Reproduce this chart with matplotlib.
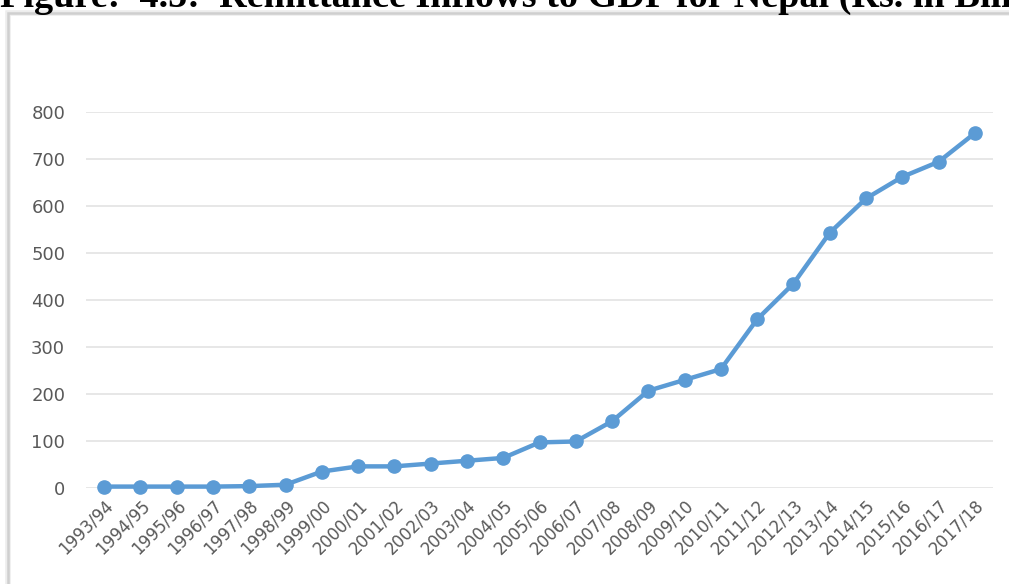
import matplotlib
matplotlib.use("Agg")
import matplotlib.pyplot as plt
from matplotlib.patches import Rectangle

# Remittance inflows, Rs. in billion, by fiscal year
years = ["1993/94", "1994/95", "1995/96", "1996/97", "1997/98", "1998/99",
         "1999/00", "2000/01", "2001/02", "2002/03", "2003/04", "2004/05",
         "2005/06", "2006/07", "2007/08", "2008/09", "2009/10", "2010/11",
         "2011/12", "2012/13", "2013/14", "2014/15", "2015/16", "2016/17",
         "2017/18"]
remittance = [3, 3, 3, 3, 4, 7, 35, 46, 46, 52, 58, 64, 97, 99, 142, 207,
              230, 253, 359, 435, 543, 616, 662, 694, 755]
y_ticks = [0, 100, 200, 300, 400, 500, 600, 700, 800]

W, H = 1009, 584
fig = plt.figure(figsize=(W / 100, H / 100), dpi=100)
fig.patch.set_facecolor("white")

# Chart frame with a soft edge
for lw, col in [(4.0, "#EDEDED"), (1.8, "#CFCFCF")]:
    fig.patches.append(Rectangle((8 / W, -0.1), 1.2, (H - 13) / H + 0.1,
                                 transform=fig.transFigure, facecolor="none",
                                 edgecolor=col, lw=lw, zorder=-1))

# Heading, partly cut by the top edge
fig.text(0.0, 1 - 7 / H,
         "Figure:  4.5:  Remittance Inflows to GDP for Nepal (Rs. in Billion)",
         family="Liberation Serif", fontweight="bold", fontsize=27.5,
         ha="left", va="baseline", color="black")

ax = fig.add_axes([86 / W, (H - 488) / H, 907 / W, 376 / H])
ax.set_facecolor("none")
x = list(range(len(years)))
ax.plot(x, remittance, color="#5B9BD5", lw=3.2, marker="o", markersize=9.5,
        markerfacecolor="#5B9BD5", markeredgecolor="#5B9BD5",
        clip_on=False, zorder=3)

ax.set_xlim(-0.5, len(years) - 0.5)
ax.set_ylim(0, 800)
ax.set_yticks(y_ticks)
ax.set_xticks(x)
ax.set_xticklabels(years, rotation=45, ha="right", rotation_mode="anchor")
ax.yaxis.grid(True, color="#E3E3E3", lw=1.2)
ax.set_axisbelow(True)
for s in ax.spines.values():
    s.set_visible(False)
ax.tick_params(axis="both", length=0, labelcolor="#595959")
ax.tick_params(axis="y", pad=15, labelsize=13)
ax.tick_params(axis="x", pad=6, labelsize=12)

fig.savefig("out.png", dpi=100)
